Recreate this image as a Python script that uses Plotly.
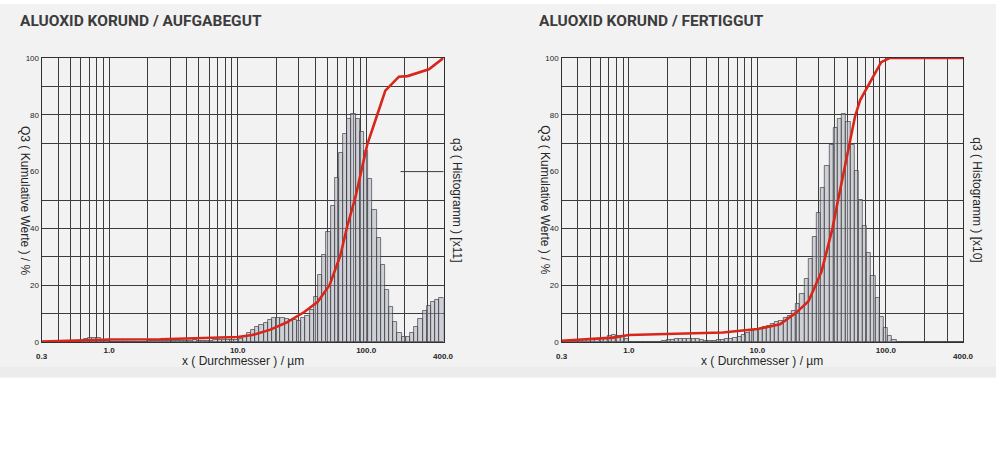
import numpy as np
import plotly.graph_objects as go

# ---------------------------------------------------------------- data
# Particle size classes (µm): 96 log-spaced classes between 0.3 and 400 µm
SIZE_MIN, SIZE_MAX, N_CLASSES = 0.3, 400.0, 96
class_edges = np.geomspace(SIZE_MIN, SIZE_MAX, N_CLASSES + 1)

# q3 density histogram per size class (scaled units), feed material
q3_aufgabegut = [
    0, 0, 0, 0, 0, 0, 0, 0, 0.2,
    0.5, 1.0, 1.4, 1.5, 1.5, 0.9, 0.3,
    0.1, 0.1, 0.1, 0.1, 0.1, 0.2, 0.2, 0.2, 0.2, 0.3, 0.3,
    0.4, 0.5, 0.5, 0.6, 0.6, 0.6, 0.5, 0.6, 0.6, 0.7, 0.6, 0.6, 0.5, 0.6, 0.7, 0.7, 0.8,
    0.8, 0.9, 0.9, 1.0, 1.9, 3.2, 4.3, 5.2, 6.1, 6.8,
    7.7, 8.4, 8.6, 8.4, 8.2, 7.7, 7.7, 7.5, 8.6, 9.2,
    11.5, 16.0, 23.8, 30.8, 38.9, 47.9, 57.8, 66.7, 73.3, 78.7,
    80.2, 78.7, 74.1, 67.2, 57.5, 46.6, 36.8, 27.2, 18.4, 12.3,
    7.2, 3.1, 1.7, 2.0, 3.4, 5.5, 8.0, 10.9, 12.6, 14.1, 14.9, 15.7,
]

# q3 density histogram per size class (scaled units), finished product
q3_fertiggut = [
    0.3, 0.5, 0.6, 0.7, 0.8, 0.8, 0.9, 1.0, 1.0, 1.1, 1.6, 2.2, 2.4, 2.3, 2.2, 1.2,
    0, 0, 0, 0, 0, 0, 0, 0,
    0.5, 0.7, 0.9, 1.0, 1.1, 1.1, 1.1, 1.1, 1.0, 0.8, 0.6, 0.6, 0.6, 0.7, 0.9, 1.0,
    1.2, 1.5, 2.0, 2.6, 3.2, 3.8, 4.3, 4.8, 5.2, 5.6, 6.3, 7.0, 7.6, 8.4, 9.2, 10.9,
    13.4, 17.0, 22.4, 29.3, 37.1, 45.4, 54.4, 62.1, 69.5, 75.3, 78.7, 80.2,
    77.4, 69.5, 60.1, 50.0, 40.8, 31.4, 23.3, 15.7, 9.0, 4.9, 2.3, 0.8,
    0, 0, 0, 0, 0, 0, 0, 0, 0, 0, 0, 0, 0, 0, 0, 0,
]

# Cumulative distribution Q3 (%), feed material
Q3_size_aufgabegut = [0.3, 0.5, 1.0, 2.5, 5.0, 10.0, 13.0, 18.0, 24.0, 33.0, 42.0,
                      52.0, 63.0, 71.0, 82.5, 92.0, 102.0, 122.0, 141.0, 180.0,
                      210.0, 308.0, 400.0]
Q3_aufgabegut = [0.2, 0.5, 0.9, 1.0, 1.4, 1.8, 2.5, 4.4, 6.9, 10.6, 14.2,
                 20.1, 30.5, 40.5, 51.0, 61.0, 69.5, 80.0, 88.5, 93.4,
                 93.6, 96.0, 100.0]

# Cumulative distribution Q3 (%), finished product
Q3_size_fertiggut = [0.3, 0.5, 0.75, 1.0, 2.2, 5.4, 10.0, 15.0, 20.0, 25.0, 27.0,
                     31.5, 34.5, 38.5, 41.5, 48.0, 52.5, 57.5, 63.0, 73.0, 92.0,
                     108.0, 400.0]
Q3_fertiggut = [0.5, 1.0, 1.6, 2.5, 2.9, 3.4, 4.6, 6.3, 10.3, 14.4, 17.8,
                24.7, 31.6, 40.2, 47.7, 61.5, 69.5, 79.3, 85.1, 90.2, 98.5,
                100.0, 100.0]

# Axis labelling
grid_sizes = [0.4, 0.5, 0.6, 0.7, 0.8, 0.9,
              1, 2, 3, 4, 5, 6, 7, 8, 9,
              10, 20, 30, 40, 50, 60, 70, 80, 90,
              100, 200, 300]
labelled_sizes = {1: "1.0", 10: "10.0", 100: "100.0"}
Q3_ticks = [0, 20, 40, 60, 80, 100]
q3_grid = [0, 10, 20, 30, 40, 50, 70, 80, 90, 100]

panels = [
    dict(title="ALUOXID KORUND / AUFGABEGUT", q3=q3_aufgabegut,
         Q3x=Q3_size_aufgabegut, Q3y=Q3_aufgabegut, scale="[x11]"),
    dict(title="ALUOXID KORUND / FERTIGGUT", q3=q3_fertiggut,
         Q3x=Q3_size_fertiggut, Q3y=Q3_fertiggut, scale="[x10]"),
]

# ---------------------------------------------------------------- layout
W, H = 996, 452
plot_left_px = [42.0, 561.7]
plot_width_px = 401.5
plot_top_px, plot_bottom_px = 55.0, 345.0


def px_x(x):
    return x / W


def px_y(y):
    return 1 - y / H


RED = "#d8261a"
GRID = "#3c3c3c"
TEXT = "#262626"
FONT = "Liberation Sans"

fig = go.Figure()
layout = dict(
    width=W, height=H, autosize=False,
    margin=dict(l=0, r=0, t=0, b=0),
    paper_bgcolor="white", plot_bgcolor="white",
    showlegend=False, bargap=0,
    annotations=[], shapes=[],
)

# light grey backdrop behind both charts
layout["shapes"].append(dict(type="rect", xref="paper", yref="paper",
                             x0=0, x1=1, y0=px_y(381), y1=1,
                             fillcolor="#f2f2f2", line_width=0, layer="below"))
layout["shapes"].append(dict(type="rect", xref="paper", yref="paper",
                             x0=0, x1=1, y0=px_y(381), y1=px_y(370),
                             fillcolor="#ececec", line_width=0, layer="below"))

widths = np.diff(class_edges)

for k, p in enumerate(panels):
    xa = "x" if k == 0 else "x2"
    ya_hist = "y" if k == 0 else "y3"
    ya_cum = "y2" if k == 0 else "y4"
    xa_key = "xaxis" if k == 0 else "xaxis2"
    yh_key = "yaxis" if k == 0 else "yaxis3"
    yc_key = "yaxis2" if k == 0 else "yaxis4"

    x0 = plot_left_px[k]
    x1 = x0 + plot_width_px
    dom_x = [px_x(x0), px_x(x1)]
    dom_y = [px_y(plot_bottom_px), px_y(plot_top_px)]

    # histogram bars (one bar per size class)
    fig.add_trace(go.Bar(
        x=class_edges[:-1], y=p["q3"], width=widths, offset=0,
        marker=dict(color="rgba(170,174,184,0.5)",
                    line=dict(color="rgba(60,60,65,0.85)", width=0.8)),
        xaxis=xa, yaxis=ya_hist, hoverinfo="skip",
    ))
    # cumulative curve
    fig.add_trace(go.Scatter(
        x=p["Q3x"], y=p["Q3y"], mode="lines",
        line=dict(color=RED, width=2.6),
        xaxis=xa, yaxis=ya_cum, hoverinfo="skip",
    ))

    layout[xa_key] = dict(
        type="log", domain=dom_x, anchor=ya_hist,
        range=[np.log10(SIZE_MIN), np.log10(SIZE_MAX)],
        tickmode="array", tickvals=grid_sizes,
        ticktext=[labelled_sizes.get(v, "") for v in grid_sizes],
        tickfont=dict(family=FONT, size=8, color=TEXT, weight="bold"),
        ticks="", showgrid=True, gridcolor=GRID, gridwidth=1,
        showline=True, mirror=True, linecolor="#303030", linewidth=1,
        zeroline=False, fixedrange=True,
    )
    layout[yh_key] = dict(
        domain=dom_y, anchor=xa, side="right", range=[0, 100],
        tickmode="array", tickvals=q3_grid, showticklabels=False,
        ticks="", showgrid=True, gridcolor=GRID, gridwidth=1,
        showline=True, mirror=True, linecolor="#303030", linewidth=1,
        zeroline=False, fixedrange=True,
    )
    layout[yc_key] = dict(
        overlaying=ya_hist, anchor=xa, side="left", range=[0, 100],
        tickmode="array", tickvals=Q3_ticks,
        tickfont=dict(family=FONT, size=8, color=TEXT),
        ticks="", showgrid=False, zeroline=False, showline=False,
        ticklabelstandoff=2, fixedrange=True,
    )

    # chart heading
    layout["annotations"].append(dict(
        text=p["title"], xref="paper", yref="paper",
        x=px_x(x0 - 24.5), y=px_y(17), xanchor="left", yanchor="middle",
        showarrow=False,
        font=dict(family="Roboto", size=15.5, color="#3c3c3c", weight="bold"),
    ))
    # axis titles
    layout["annotations"].append(dict(
        text="x ( Durchmesser ) / µm", xref="paper", yref="paper",
        x=px_x((x0 + x1) / 2), y=px_y(364), xanchor="center", yanchor="middle",
        showarrow=False, font=dict(family=FONT, size=12, color=TEXT),
    ))
    layout["annotations"].append(dict(
        text="Q3 ( Kumulative Werte ) / %", xref="paper", yref="paper",
        x=px_x(x0 - 17), y=px_y(200), xanchor="center", yanchor="middle",
        textangle=90, showarrow=False,
        font=dict(family=FONT, size=12, color=TEXT),
    ))
    layout["annotations"].append(dict(
        text=f"q3 ( Histogramm ) {p['scale']}", xref="paper", yref="paper",
        x=px_x(x1 + 13.5), y=px_y(200), xanchor="center", yanchor="middle",
        textangle=90, showarrow=False,
        font=dict(family=FONT, size=12, color=TEXT),
    ))
    # range end labels below the axis
    for v, txt in ((SIZE_MIN, "0.3"), (SIZE_MAX, "400.0")):
        layout["annotations"].append(dict(
            text=txt, xref=xa, yref="paper", x=np.log10(v), y=px_y(360),
            xanchor="center", yanchor="middle", showarrow=False,
            font=dict(family=FONT, size=8, color=TEXT, weight="bold"),
        ))

# short 60 % grid segment at the right end of the first chart
layout["shapes"].append(dict(type="line", xref="x domain", yref="y",
                             x0=0.893, x1=1.0, y0=60, y1=60,
                             line=dict(color=GRID, width=1), layer="below"))

fig.update_layout(**layout)
fig.write_html("out.html")
